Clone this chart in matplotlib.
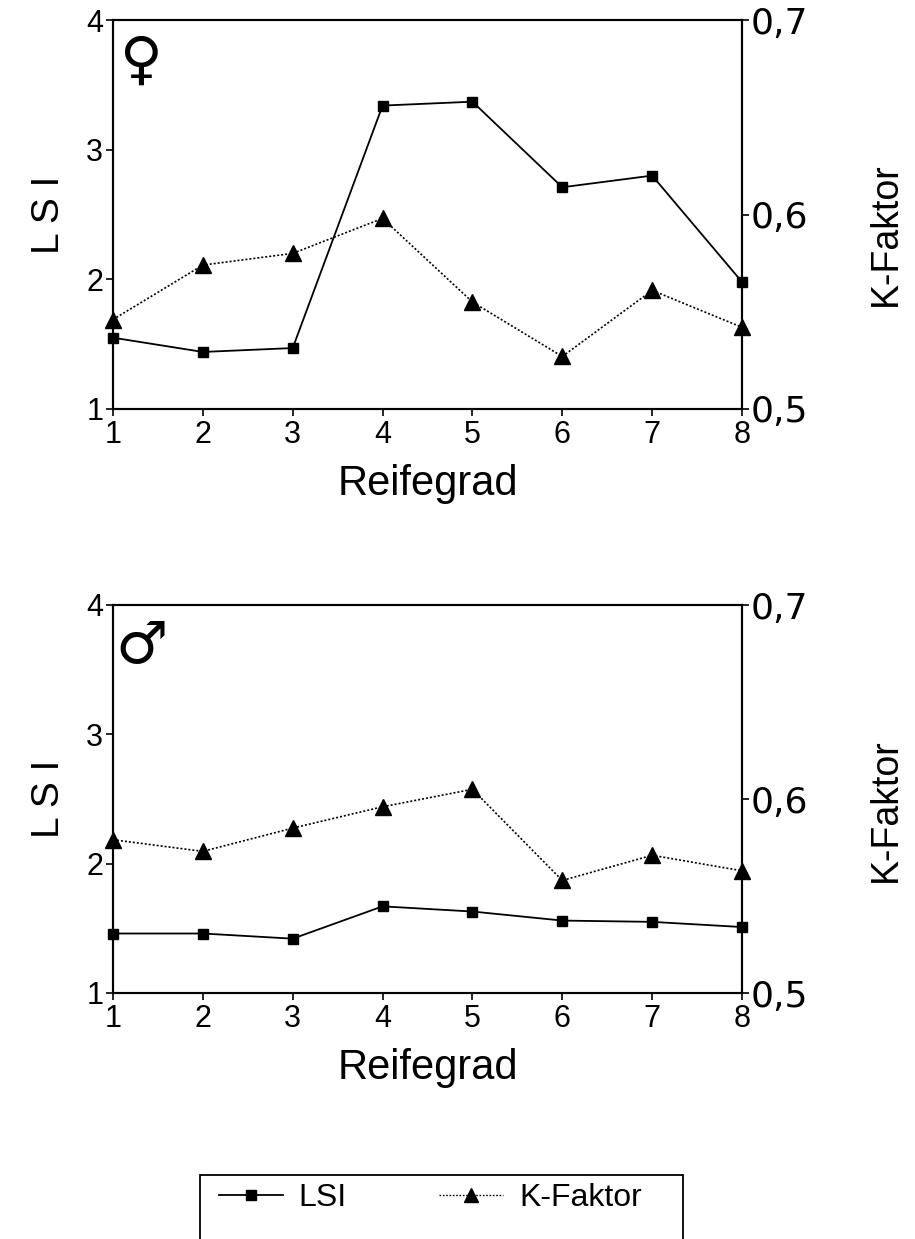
import matplotlib
matplotlib.use("Agg")
import matplotlib.pyplot as plt
from matplotlib.patches import Rectangle
from matplotlib.lines import Line2D

# Reifegrad (maturity stage)
stages = [1, 2, 3, 4, 5, 6, 7, 8]

# Females
lsi_female = [1.55, 1.44, 1.47, 3.34, 3.37, 2.71, 2.80, 1.98]
k_female = [0.546, 0.574, 0.580, 0.598, 0.555, 0.527, 0.561, 0.542]

# Males
lsi_male = [1.46, 1.46, 1.42, 1.67, 1.63, 1.56, 1.55, 1.51]
k_male = [0.579, 0.573, 0.585, 0.596, 0.605, 0.558, 0.571, 0.563]

lsi_ticks = [1, 2, 3, 4]
k_ticks = [0.5, 0.6, 0.7]
k_ticklabels = ["0,5", "0,6", "0,7"]

plt.rcParams["font.family"] = ["Liberation Sans", "DejaVu Sans"]

W, H = 915, 1239
fig = plt.figure(figsize=(W / 100, H / 100), dpi=100)


def px_axes(left, right, top, bottom):
    return [left / W, 1 - bottom / H, (right - left) / W, (bottom - top) / H]


def panel(rect, lsi, kf, symbol, kf_label_y):
    ax = fig.add_axes(rect)
    ax2 = ax.twinx()
    ax.set_zorder(ax2.get_zorder() + 1)
    ax.patch.set_visible(False)

    ax.plot(stages, lsi, color="black", lw=1.3, ls="-", marker="s",
            ms=7.5, mfc="black", mec="black", clip_on=False, zorder=3)
    ax2.plot(stages, kf, color="black", lw=1.2, ls=(0, (1.2, 1.2)),
             marker="^", ms=12, mfc="black", mec="black", clip_on=False)

    ax.set_xlim(1, 8)
    ax.set_ylim(1, 4)
    ax2.set_ylim(0.5, 0.7)
    ax.set_xticks(stages)
    ax.set_yticks(lsi_ticks)
    ax2.set_yticks(k_ticks)
    ax2.set_yticklabels(k_ticklabels, family="DejaVu Sans", fontsize=26)

    ax.tick_params(axis="x", direction="out", length=5, width=1.2,
                   labelsize=22, pad=3)
    ax.tick_params(axis="y", direction="out", length=5, width=1.2,
                   labelsize=22, pad=2)
    ax2.tick_params(axis="y", direction="out", length=5, width=1.2, pad=1)

    for a in (ax, ax2):
        for s in a.spines.values():
            s.set_linewidth(1.5)

    ax.set_xlabel("Reifegrad", fontsize=30, labelpad=10)
    ax.set_ylabel("L S I", fontsize=28)
    ax.yaxis.set_label_coords(-0.073, 0.5)
    ax2.set_ylabel("K-Faktor", fontsize=27)
    ax2.yaxis.set_label_coords(1.20, kf_label_y)

    ax.text(0.045, 0.895, symbol, transform=ax.transAxes, fontsize=42,
            fontweight="bold", family="DejaVu Sans",
            ha="center", va="center")
    return ax, ax2


panel(px_axes(113, 742, 20, 409), lsi_female, k_female, "\u2640", 0.45)
panel(px_axes(113, 742, 605, 993), lsi_male, k_male, "\u2642", 0.47)

# Legend
handles = [
    Line2D([], [], color="black", lw=1.3, marker="s", ms=7),
    Line2D([], [], color="black", lw=1.0, ls=(0, (1.2, 1.2)), marker="^", ms=10),
]
fig.legend(handles, ["LSI", "K-Faktor"], loc="center left",
           bbox_to_anchor=(190 / W, 1 - 1198 / H), ncol=2, frameon=False,
           fontsize=23, handlelength=2.0, handletextpad=0.5,
           columnspacing=2.9)
fig.patches.append(Rectangle((200 / W, 1 - 1265 / H), 483 / W, 90 / H,
                             transform=fig.transFigure, fill=False,
                             edgecolor="black", lw=1.3, clip_on=False))

fig.savefig("out.png", dpi=100, facecolor="white")
